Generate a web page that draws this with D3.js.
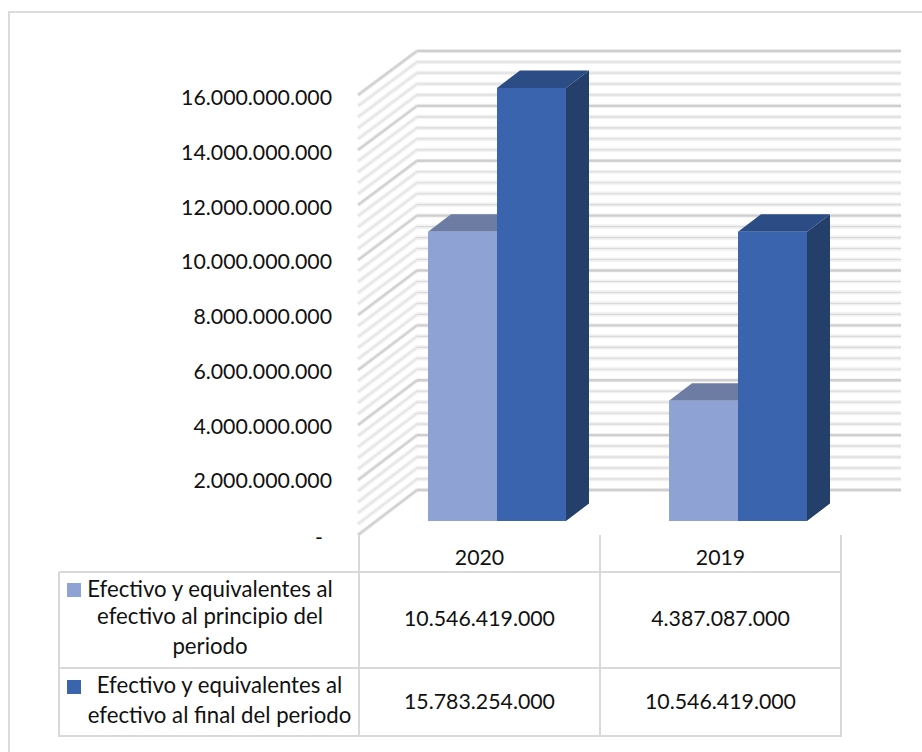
<!DOCTYPE html>
<html>
<head>
<meta charset="utf-8">
<script src="https://cdn.jsdelivr.net/npm/d3@7.9.0/dist/d3.min.js"></script>
<style>
  html, body { margin: 0; background: #fff; }
  svg { display: block; }
  text { font-family: Lato, "Open Sans", sans-serif; fill: #111; }
</style>
</head>
<body>
<svg id="chart" width="922" height="752"></svg>
<script>
const categories = ["2020", "2019"];
const seriesNames = ["start", "end"];
const startValues = [10546419000, 4387087000];
const endValues = [15783254000, 10546419000];
const startLabels = ["10.546.419.000", "4.387.087.000"];
const endLabels = ["15.783.254.000", "10.546.419.000"];
const startLegend = ["Efectivo y equivalentes al", "efectivo al principio del", "periodo"];
const endLegend = ["Efectivo y equivalentes al", "efectivo al final del periodo"];
const tickValues = [0, 2e9, 4e9, 6e9, 8e9, 10e9, 12e9, 14e9, 16e9];
const minorTicks = d3.range(0, 16e9 + 1, 4e8);

const colors = {
  start: "#8fa2d4", startTop: "#6d7ca3",
  end: "#3a64ad", endTop: "#2c4c85", endSide: "#253f6b",
  grid: "#d9d9d9"
};

const svg = d3.select("#chart");

// frame: only the top and left edges show in the picture
svg.append("path").attr("d", "M9,752V12H922")
  .attr("fill", "none").attr("stroke", "#dcdcdc").attr("stroke-width", 2);

// value scales: back wall, front edge of wall, bars front face, axis label baselines
const yBack = d3.scaleLinear().domain([0, 16e9]).range([490, 51]);
const yFront = d3.scaleLinear().domain([0, 16e9]).range([535, 95]);
const yBar = d3.scaleLinear().domain([0, 16e9]).range([521, 82]);
const yLabel = d3.scaleLinear().domain([0, 16e9]).range([543, 105]);

const wallFrontX = 358, wallBackX = 417, wallRightX = 901;

const grid = svg.append("g").attr("fill", "none");
minorTicks.forEach((v) => {
  const major = tickValues.includes(v);
  const wall = `M${wallFrontX},${yFront(v)}L${wallBackX},${yBack(v)}`;
  const back = `M${wallBackX},${yBack(v)}L${wallRightX},${yBack(v)}`;
  // each gridline reads as a pale band with a grey core, paler on the side wall
  grid.append("path").attr("d", wall + back.replace(/^M[^L]*/, "")).attr("stroke", "#f1f1f1").attr("stroke-width", 4.2);
  grid.append("path").attr("d", wall)
    .attr("stroke", major ? "#d2d2d2" : "#e3e3e3")
    .attr("stroke-width", major ? 2.4 : 1.2);
  grid.append("path").attr("d", back)
    .attr("stroke", major ? "#cfcfcf" : "#dadada")
    .attr("stroke-width", major ? 2.4 : 1.1);
});

// table cols share the band scale with the bars
const x = d3.scaleBand().domain(categories).range([359, 841]);
const inner = d3.scaleBand().domain(seriesNames).range([69, 207]);
const depthX = 23, depthY = 17.5;

const barData = [
  { key: "start", values: startValues, front: colors.start, top: colors.startTop, side: colors.endSide },
  { key: "end", values: endValues, front: colors.end, top: colors.endTop, side: colors.endSide }
];

const bars = svg.append("g");
categories.forEach((cat, i) => {
  barData.forEach((s) => {
    const x0 = x(cat) + inner(s.key);
    const x1 = x0 + inner.bandwidth();
    const y0 = yBar(s.values[i]);
    const y1 = yBar(0);
    const g = bars.append("g");
    g.append("path")
      .attr("d", `M${x1},${y0}L${x1 + depthX},${y0 - depthY}L${x1 + depthX},${y1 - depthY}L${x1},${y1}Z`)
      .attr("fill", s.side);
    g.append("path")
      .attr("d", `M${x0},${y0}L${x0 + depthX},${y0 - depthY}L${x1 + depthX},${y0 - depthY}L${x1},${y0}Z`)
      .attr("fill", s.top);
    g.append("rect")
      .attr("x", x0).attr("y", y0).attr("width", x1 - x0).attr("height", y1 - y0)
      .attr("fill", s.front);
  });
});

const axisFormat = (v) => v === 0 ? "-" : d3.format(",")(v).replace(/,/g, ".");
svg.append("g").selectAll("text").data(tickValues).join("text")
  .attr("x", (v) => v === 0 ? 323 : 332)
  .attr("y", (v) => v === 0 ? yLabel(v) + 2 : yLabel(v))
  .attr("text-anchor", "end")
  .attr("font-size", 21.3)
  .text(axisFormat);

// data table
const rowLines = [572, 668, 736];
const colLines = [359, 600, 841];
const table = svg.append("g").attr("stroke", colors.grid).attr("stroke-width", 2);
rowLines.forEach((y) => table.append("line").attr("x1", 59).attr("x2", 841).attr("y1", y).attr("y2", y));
colLines.forEach((cx) => table.append("line").attr("x1", cx).attr("x2", cx).attr("y1", 535).attr("y2", 737));
table.append("line").attr("x1", 59).attr("x2", 59).attr("y1", 572).attr("y2", 737);

const cellText = (tx, ty, str, size = 21.3) => svg.append("text")
  .attr("x", tx).attr("y", ty).attr("text-anchor", "middle").attr("font-size", size).text(str);

categories.forEach((cat, i) => {
  const cx = x(cat) + x.bandwidth() / 2;
  cellText(cx, 565, cat);
  cellText(cx, 626, startLabels[i]);
  cellText(cx, 709, endLabels[i]);
});

[597, 624, 654].forEach((y, i) => cellText(210, y, startLegend[i], 22.2));
[693, 723].forEach((y, i) => cellText(219.5, y, endLegend[i], 22.2));

svg.append("rect").attr("x", 67).attr("y", 583).attr("width", 14).attr("height", 14).attr("fill", colors.start);
svg.append("rect").attr("x", 67).attr("y", 680).attr("width", 14).attr("height", 14).attr("fill", colors.end);
</script>
</body>
</html>
